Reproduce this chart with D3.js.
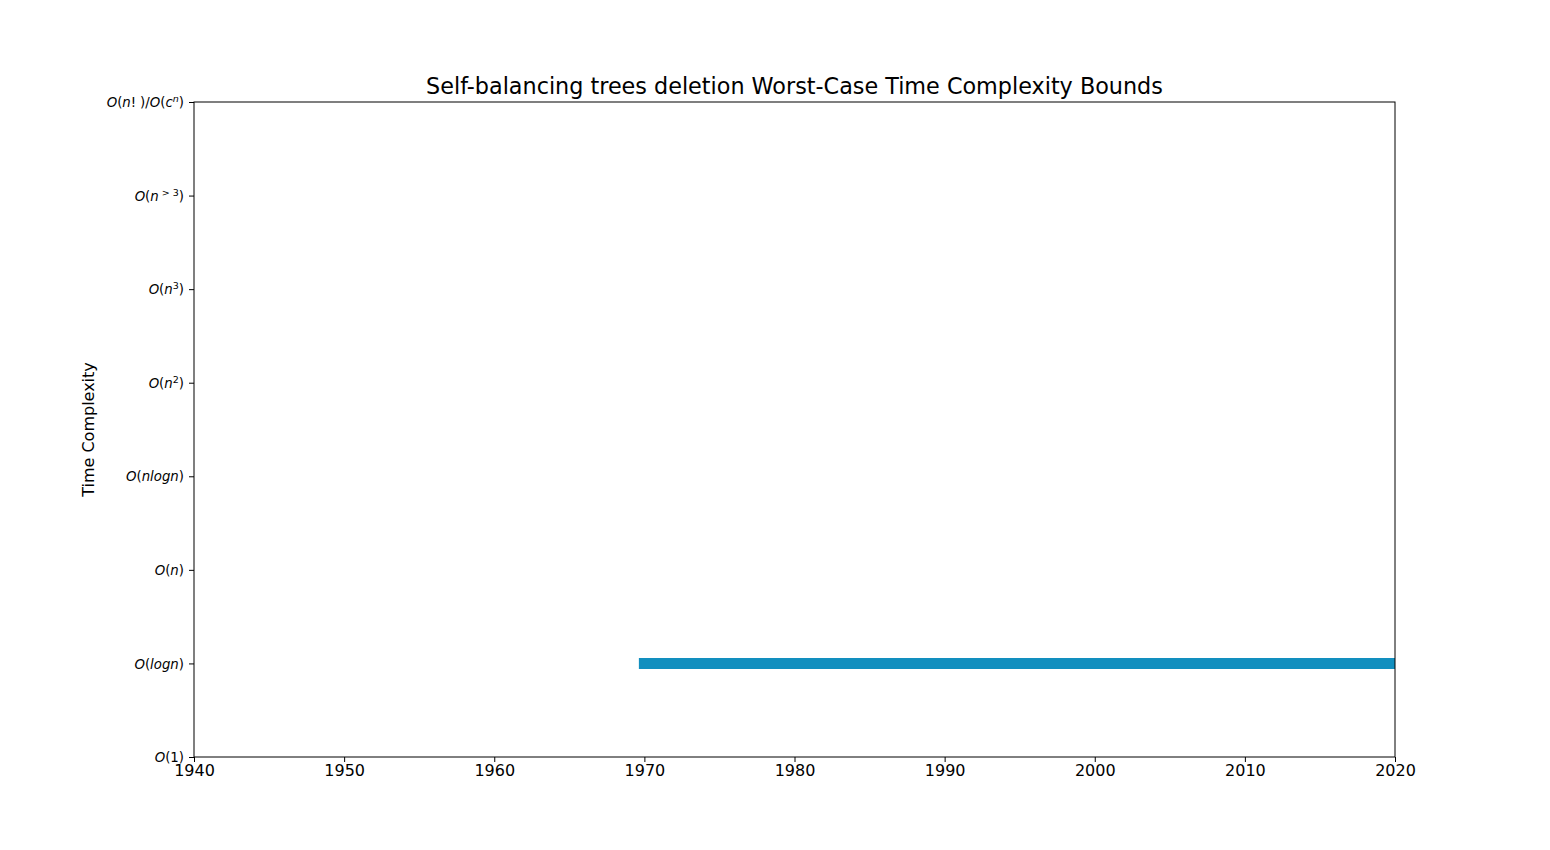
<!DOCTYPE html>
<html><head><meta charset="utf-8">
<script src="https://cdn.jsdelivr.net/npm/d3@7"></script>
<style>body{margin:0;background:#fff}svg{display:block}</style>
</head><body>
<script>
const title = "Self-balancing trees deletion Worst-Case Time Complexity Bounds";
const yLabel = "Time Complexity";
const xTicks = [1940,1950,1960,1970,1980,1990,2000,2010,2020];
const xDomain = [1940,2020];
// complexity classes, bottom to top; each as parts [text, style] (i=italic, u=upright, s=superscript)
const complexityLabels = [
  [["O","i"],["(1)","u"]],
  [["O","i"],["(","u"],["logn","i"],[")","u"]],
  [["O","i"],["(","u"],["n","i"],[")","u"]],
  [["O","i"],["(","u"],["nlogn","i"],[")","u"]],
  [["O","i"],["(","u"],["n","i"],["2","s"],[")","u"]],
  [["O","i"],["(","u"],["n","i"],["3","s"],[")","u"]],
  [["O","i"],["(","u"],["n","i"],[" > 3","s"],[")","u"]],
  [["O","i"],["(","u"],["n","i"],["!","u"],[")/","g"],["O","i"],["(","u"],["c","i"],["n","si"],[")","u"]]
];
const segStart = [1970];
const segEnd = [2020];
const segLevel = [1];
const segColor = "#128fbf";

const W=1550,H=850;
const m={l:194,r:155,t:102,b:93};
const svg=d3.select("body").append("svg").attr("width",W).attr("height",H);
const x=d3.scaleLinear().domain(xDomain).range([m.l,W-m.r]);
const y=d3.scaleLinear().domain([0,complexityLabels.length-1]).range([H-m.b,m.t]);

svg.append("defs").append("clipPath").attr("id","clip").append("rect")
  .attr("x",m.l).attr("y",m.t).attr("width",W-m.r-m.l).attr("height",H-m.b-m.t);

svg.append("g").attr("clip-path","url(#clip)").selectAll("line.seg")
  .data(segStart.map((s,i)=>({s,e:segEnd[i],l:segLevel[i]})))
  .enter().append("line")
  .attr("x1",d=>x(d.s)).attr("x2",d=>x(d.e))
  .attr("y1",d=>y(d.l)).attr("y2",d=>y(d.l))
  .attr("stroke",segColor).attr("stroke-width",11).attr("stroke-linecap","square");

// frame
svg.append("rect").attr("x",m.l).attr("y",m.t).attr("width",W-m.r-m.l).attr("height",H-m.b-m.t)
  .attr("fill","none").attr("stroke","#000").attr("stroke-width",1);

// x axis
const xa=svg.append("g").attr("transform",`translate(0,${H-m.b})`)
  .call(d3.axisBottom(x).tickValues(xTicks).tickFormat(d3.format("d")).tickSize(5).tickPadding(3));
xa.select(".domain").remove();
xa.selectAll("text").attr("font-family","DejaVu Sans").attr("font-size",16).attr("fill","#000");

// y axis
const ya=svg.append("g").attr("transform",`translate(${m.l},0)`)
  .call(d3.axisLeft(y).tickValues(d3.range(complexityLabels.length)).tickFormat("").tickSize(5));
ya.select(".domain").remove();
ya.selectAll(".tick").each(function(d){
  const t=d3.select(this).append("text").attr("x",-10).attr("dy","0.35em")
    .attr("text-anchor","end").attr("font-family","DejaVu Sans").attr("font-size",13.3).attr("fill","#000");
  complexityLabels[d].forEach((p,k)=>{
    const [txt,st]=p;
    const sup=st[0]==="s";
    const ts=t.append("tspan").text(txt)
      .attr("font-style",(st==="i"||st==="si")?"italic":"normal");
    if(sup){ts.attr("font-size",9.5).attr("dy",-5);}
    if(st==="g"){ts.attr("dx",4);}
    const prev=complexityLabels[d][k-1];
    if(prev&&prev[1][0]==="s"&&!sup){ts.attr("dy",5);}
  });
});

svg.append("text").attr("x",(m.l+W-m.r)/2).attr("y",m.t-8).attr("text-anchor","middle")
  .attr("font-family","DejaVu Sans").attr("font-size",22.3).text(title);
svg.append("text").attr("transform",`translate(94,${(m.t+H-m.b)/2}) rotate(-90)`)
  .attr("text-anchor","middle").attr("font-family","DejaVu Sans").attr("font-size",16).text(yLabel);
</script>
</body></html>
